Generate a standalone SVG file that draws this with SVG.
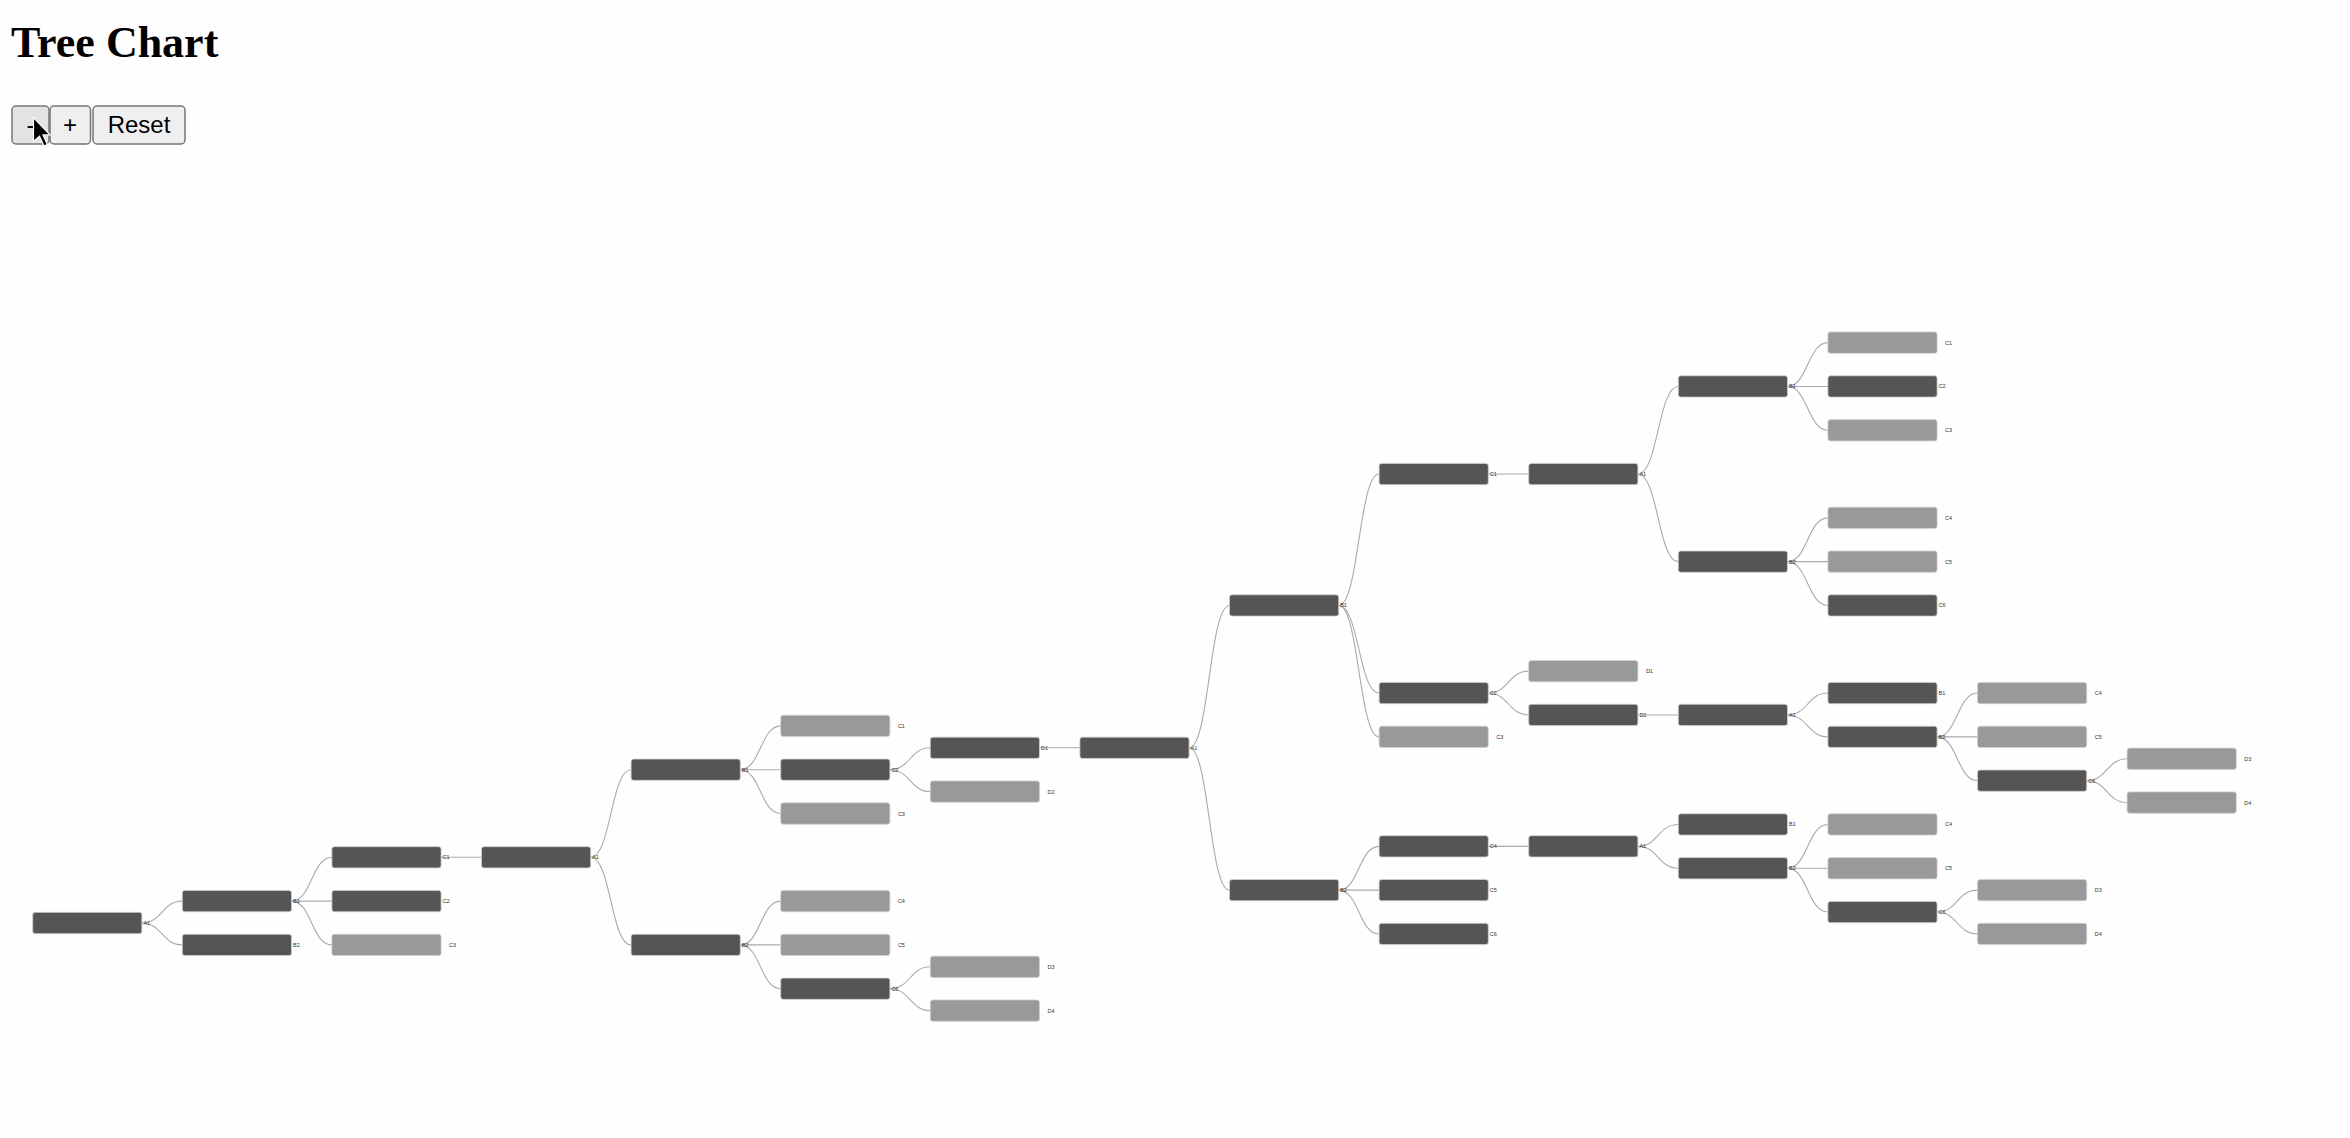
<svg xmlns="http://www.w3.org/2000/svg" width="2350" height="1138" viewBox="0 0 2350 1138">
<style>
.title{font-family:"Liberation Serif","Times New Roman",serif;font-weight:bold;font-size:44px;fill:#000}
.btn rect{fill:#efefef;stroke:#767676;stroke-width:1.5}
.btn.hover rect{fill:#e3e3e3}
.btn text{font-family:"Liberation Sans",Arial,sans-serif;font-size:24px;fill:#000;text-anchor:middle}
.node use{stroke:#d0d0d0;stroke-width:0.8}
.dark use{fill:#555555}
.light use{fill:#999999}
.node text{font-family:"Liberation Sans",Arial,sans-serif;font-size:5.5px;fill:#333}
.link{fill:none;stroke:#aaaaaa;stroke-width:1.1}
</style>
<defs>
<rect id="box" x="0" y="-10.65" width="109.2" height="21.3" rx="2.5"/>
</defs>
<rect width="2350" height="1138" fill="#fefefe"/>
<text class="title" x="11" y="57">Tree Chart</text>
<g id="btn-minus" class="btn hover"><rect x="12" y="106" width="37" height="38" rx="4"/><text x="30.5" y="133">-</text></g>
<g id="btn-plus" class="btn"><rect x="50" y="106" width="40.5" height="38" rx="4"/><text x="70" y="133">+</text></g>
<g id="btn-reset" class="btn"><rect x="93" y="106" width="92" height="38" rx="4"/><text x="139" y="133">Reset</text></g>
<polygon points="0,0 0,16 4,12.5 7,19 9.2,18 6.3,11.6 11,11.6" transform="translate(33.5,117.5) scale(1.5)" fill="#000" stroke="#fff" stroke-width="0.8"/>

<g id="links">
<path class="link" d="M141.9,923 C162.1,923 162.1,901.1 182.3,901.1"/>
<path class="link" d="M141.9,923 C162.1,923 162.1,944.9 182.3,944.9"/>
<path class="link" d="M291.5,901.1 C311.7,901.1 311.7,857.3 331.9,857.3"/>
<path class="link" d="M291.5,901.1 C311.7,901.1 311.7,901.1 331.9,901.1"/>
<path class="link" d="M291.5,901.1 C311.7,901.1 311.7,944.9 331.9,944.9"/>
<path class="link" d="M441.1,857.3 C461.3,857.3 461.3,857.3 481.5,857.3"/>
<path class="link" d="M590.7,857.3 C610.9,857.3 610.9,769.7 631.1,769.7"/>
<path class="link" d="M590.7,857.3 C610.9,857.3 610.9,944.9 631.1,944.9"/>
<path class="link" d="M740.3,769.7 C760.5,769.7 760.5,725.9 780.7,725.9"/>
<path class="link" d="M740.3,769.7 C760.5,769.7 760.5,769.7 780.7,769.7"/>
<path class="link" d="M740.3,769.7 C760.5,769.7 760.5,813.5 780.7,813.5"/>
<path class="link" d="M740.3,944.9 C760.5,944.9 760.5,901.1 780.7,901.1"/>
<path class="link" d="M740.3,944.9 C760.5,944.9 760.5,944.9 780.7,944.9"/>
<path class="link" d="M740.3,944.9 C760.5,944.9 760.5,988.7 780.7,988.7"/>
<path class="link" d="M889.9,769.7 C910.1,769.7 910.1,747.8 930.3,747.8"/>
<path class="link" d="M889.9,769.7 C910.1,769.7 910.1,791.6 930.3,791.6"/>
<path class="link" d="M889.9,988.7 C910.1,988.7 910.1,966.8 930.3,966.8"/>
<path class="link" d="M889.9,988.7 C910.1,988.7 910.1,1010.6 930.3,1010.6"/>
<path class="link" d="M1039.5,747.8 C1059.7,747.8 1059.7,747.8 1079.9,747.8"/>
<path class="link" d="M1189.1,747.8 C1209.3,747.8 1209.3,605.45 1229.5,605.45"/>
<path class="link" d="M1189.1,747.8 C1209.3,747.8 1209.3,890.15 1229.5,890.15"/>
<path class="link" d="M1338.7,605.45 C1358.9,605.45 1358.9,474.05 1379.1,474.05"/>
<path class="link" d="M1338.7,605.45 C1358.9,605.45 1358.9,693.05 1379.1,693.05"/>
<path class="link" d="M1338.7,605.45 C1358.9,605.45 1358.9,736.85 1379.1,736.85"/>
<path class="link" d="M1338.7,890.15 C1358.9,890.15 1358.9,846.35 1379.1,846.35"/>
<path class="link" d="M1338.7,890.15 C1358.9,890.15 1358.9,890.15 1379.1,890.15"/>
<path class="link" d="M1338.7,890.15 C1358.9,890.15 1358.9,933.95 1379.1,933.95"/>
<path class="link" d="M1488.3,474.05 C1508.5,474.05 1508.5,474.05 1528.7,474.05"/>
<path class="link" d="M1488.3,693.05 C1508.5,693.05 1508.5,671.15 1528.7,671.15"/>
<path class="link" d="M1488.3,693.05 C1508.5,693.05 1508.5,714.95 1528.7,714.95"/>
<path class="link" d="M1488.3,846.35 C1508.5,846.35 1508.5,846.35 1528.7,846.35"/>
<path class="link" d="M1637.9,474.05 C1658.1,474.05 1658.1,386.45 1678.3,386.45"/>
<path class="link" d="M1637.9,474.05 C1658.1,474.05 1658.1,561.65 1678.3,561.65"/>
<path class="link" d="M1637.9,714.95 C1658.1,714.95 1658.1,714.95 1678.3,714.95"/>
<path class="link" d="M1637.9,846.35 C1658.1,846.35 1658.1,824.45 1678.3,824.45"/>
<path class="link" d="M1637.9,846.35 C1658.1,846.35 1658.1,868.25 1678.3,868.25"/>
<path class="link" d="M1787.5,386.45 C1807.7,386.45 1807.7,342.65 1827.9,342.65"/>
<path class="link" d="M1787.5,386.45 C1807.7,386.45 1807.7,386.45 1827.9,386.45"/>
<path class="link" d="M1787.5,386.45 C1807.7,386.45 1807.7,430.25 1827.9,430.25"/>
<path class="link" d="M1787.5,561.65 C1807.7,561.65 1807.7,517.85 1827.9,517.85"/>
<path class="link" d="M1787.5,561.65 C1807.7,561.65 1807.7,561.65 1827.9,561.65"/>
<path class="link" d="M1787.5,561.65 C1807.7,561.65 1807.7,605.45 1827.9,605.45"/>
<path class="link" d="M1787.5,714.95 C1807.7,714.95 1807.7,693.05 1827.9,693.05"/>
<path class="link" d="M1787.5,714.95 C1807.7,714.95 1807.7,736.85 1827.9,736.85"/>
<path class="link" d="M1787.5,868.25 C1807.7,868.25 1807.7,824.45 1827.9,824.45"/>
<path class="link" d="M1787.5,868.25 C1807.7,868.25 1807.7,868.25 1827.9,868.25"/>
<path class="link" d="M1787.5,868.25 C1807.7,868.25 1807.7,912.05 1827.9,912.05"/>
<path class="link" d="M1937.1,736.85 C1957.3,736.85 1957.3,693.05 1977.5,693.05"/>
<path class="link" d="M1937.1,736.85 C1957.3,736.85 1957.3,736.85 1977.5,736.85"/>
<path class="link" d="M1937.1,736.85 C1957.3,736.85 1957.3,780.65 1977.5,780.65"/>
<path class="link" d="M1937.1,912.05 C1957.3,912.05 1957.3,890.15 1977.5,890.15"/>
<path class="link" d="M1937.1,912.05 C1957.3,912.05 1957.3,933.95 1977.5,933.95"/>
<path class="link" d="M2086.7,780.65 C2106.9,780.65 2106.9,758.75 2127.1,758.75"/>
<path class="link" d="M2086.7,780.65 C2106.9,780.65 2106.9,802.55 2127.1,802.55"/>
</g>

<g id="nodes">
<g id="n0" class="node dark" transform="translate(32.7,923)"><use href="#box"/><text x="110.7" y="2">A1</text></g>
<g id="n1" class="node dark" transform="translate(182.3,901.1)"><use href="#box"/><text x="110.7" y="2">B1</text></g>
<g id="n2" class="node dark" transform="translate(182.3,944.9)"><use href="#box"/><text x="110.7" y="2">B2</text></g>
<g id="n3" class="node dark" transform="translate(331.9,857.3)"><use href="#box"/><text x="110.7" y="2">C1</text></g>
<g id="n4" class="node dark" transform="translate(331.9,901.1)"><use href="#box"/><text x="110.7" y="2">C2</text></g>
<g id="n5" class="node light" transform="translate(331.9,944.9)"><use href="#box"/><text x="117.2" y="2">C3</text></g>
<g id="n6" class="node dark" transform="translate(481.5,857.3)"><use href="#box"/><text x="110.7" y="2">A1</text></g>
<g id="n7" class="node dark" transform="translate(631.1,769.7)"><use href="#box"/><text x="110.7" y="2">B1</text></g>
<g id="n8" class="node dark" transform="translate(631.1,944.9)"><use href="#box"/><text x="110.7" y="2">B2</text></g>
<g id="n9" class="node light" transform="translate(780.7,725.9)"><use href="#box"/><text x="117.2" y="2">C1</text></g>
<g id="n10" class="node dark" transform="translate(780.7,769.7)"><use href="#box"/><text x="110.7" y="2">C2</text></g>
<g id="n11" class="node light" transform="translate(780.7,813.5)"><use href="#box"/><text x="117.2" y="2">C3</text></g>
<g id="n12" class="node light" transform="translate(780.7,901.1)"><use href="#box"/><text x="117.2" y="2">C4</text></g>
<g id="n13" class="node light" transform="translate(780.7,944.9)"><use href="#box"/><text x="117.2" y="2">C5</text></g>
<g id="n14" class="node dark" transform="translate(780.7,988.7)"><use href="#box"/><text x="110.7" y="2">C6</text></g>
<g id="n15" class="node dark" transform="translate(930.3,747.8)"><use href="#box"/><text x="110.7" y="2">D1</text></g>
<g id="n16" class="node light" transform="translate(930.3,791.6)"><use href="#box"/><text x="117.2" y="2">D2</text></g>
<g id="n17" class="node light" transform="translate(930.3,966.8)"><use href="#box"/><text x="117.2" y="2">D3</text></g>
<g id="n18" class="node light" transform="translate(930.3,1010.6)"><use href="#box"/><text x="117.2" y="2">D4</text></g>
<g id="n19" class="node dark" transform="translate(1079.9,747.8)"><use href="#box"/><text x="110.7" y="2">A1</text></g>
<g id="n20" class="node dark" transform="translate(1229.5,605.45)"><use href="#box"/><text x="110.7" y="2">B1</text></g>
<g id="n21" class="node dark" transform="translate(1229.5,890.15)"><use href="#box"/><text x="110.7" y="2">B2</text></g>
<g id="n22" class="node dark" transform="translate(1379.1,474.05)"><use href="#box"/><text x="110.7" y="2">C1</text></g>
<g id="n23" class="node dark" transform="translate(1379.1,693.05)"><use href="#box"/><text x="110.7" y="2">C2</text></g>
<g id="n24" class="node light" transform="translate(1379.1,736.85)"><use href="#box"/><text x="117.2" y="2">C3</text></g>
<g id="n25" class="node dark" transform="translate(1379.1,846.35)"><use href="#box"/><text x="110.7" y="2">C4</text></g>
<g id="n26" class="node dark" transform="translate(1379.1,890.15)"><use href="#box"/><text x="110.7" y="2">C5</text></g>
<g id="n27" class="node dark" transform="translate(1379.1,933.95)"><use href="#box"/><text x="110.7" y="2">C6</text></g>
<g id="n28" class="node dark" transform="translate(1528.7,474.05)"><use href="#box"/><text x="110.7" y="2">A1</text></g>
<g id="n29" class="node light" transform="translate(1528.7,671.15)"><use href="#box"/><text x="117.2" y="2">D1</text></g>
<g id="n30" class="node dark" transform="translate(1528.7,714.95)"><use href="#box"/><text x="110.7" y="2">D2</text></g>
<g id="n31" class="node dark" transform="translate(1528.7,846.35)"><use href="#box"/><text x="110.7" y="2">A1</text></g>
<g id="n32" class="node dark" transform="translate(1678.3,386.45)"><use href="#box"/><text x="110.7" y="2">B1</text></g>
<g id="n33" class="node dark" transform="translate(1678.3,561.65)"><use href="#box"/><text x="110.7" y="2">B2</text></g>
<g id="n34" class="node dark" transform="translate(1678.3,714.95)"><use href="#box"/><text x="110.7" y="2">A1</text></g>
<g id="n35" class="node dark" transform="translate(1678.3,824.45)"><use href="#box"/><text x="110.7" y="2">B1</text></g>
<g id="n36" class="node dark" transform="translate(1678.3,868.25)"><use href="#box"/><text x="110.7" y="2">B2</text></g>
<g id="n37" class="node light" transform="translate(1827.9,342.65)"><use href="#box"/><text x="117.2" y="2">C1</text></g>
<g id="n38" class="node dark" transform="translate(1827.9,386.45)"><use href="#box"/><text x="110.7" y="2">C2</text></g>
<g id="n39" class="node light" transform="translate(1827.9,430.25)"><use href="#box"/><text x="117.2" y="2">C3</text></g>
<g id="n40" class="node light" transform="translate(1827.9,517.85)"><use href="#box"/><text x="117.2" y="2">C4</text></g>
<g id="n41" class="node light" transform="translate(1827.9,561.65)"><use href="#box"/><text x="117.2" y="2">C5</text></g>
<g id="n42" class="node dark" transform="translate(1827.9,605.45)"><use href="#box"/><text x="110.7" y="2">C6</text></g>
<g id="n43" class="node dark" transform="translate(1827.9,693.05)"><use href="#box"/><text x="110.7" y="2">B1</text></g>
<g id="n44" class="node dark" transform="translate(1827.9,736.85)"><use href="#box"/><text x="110.7" y="2">B2</text></g>
<g id="n45" class="node light" transform="translate(1827.9,824.45)"><use href="#box"/><text x="117.2" y="2">C4</text></g>
<g id="n46" class="node light" transform="translate(1827.9,868.25)"><use href="#box"/><text x="117.2" y="2">C5</text></g>
<g id="n47" class="node dark" transform="translate(1827.9,912.05)"><use href="#box"/><text x="110.7" y="2">C6</text></g>
<g id="n48" class="node light" transform="translate(1977.5,693.05)"><use href="#box"/><text x="117.2" y="2">C4</text></g>
<g id="n49" class="node light" transform="translate(1977.5,736.85)"><use href="#box"/><text x="117.2" y="2">C5</text></g>
<g id="n50" class="node dark" transform="translate(1977.5,780.65)"><use href="#box"/><text x="110.7" y="2">C6</text></g>
<g id="n51" class="node light" transform="translate(1977.5,890.15)"><use href="#box"/><text x="117.2" y="2">D3</text></g>
<g id="n52" class="node light" transform="translate(1977.5,933.95)"><use href="#box"/><text x="117.2" y="2">D4</text></g>
<g id="n53" class="node light" transform="translate(2127.1,758.75)"><use href="#box"/><text x="117.2" y="2">D3</text></g>
<g id="n54" class="node light" transform="translate(2127.1,802.55)"><use href="#box"/><text x="117.2" y="2">D4</text></g>
</g>
</svg>
